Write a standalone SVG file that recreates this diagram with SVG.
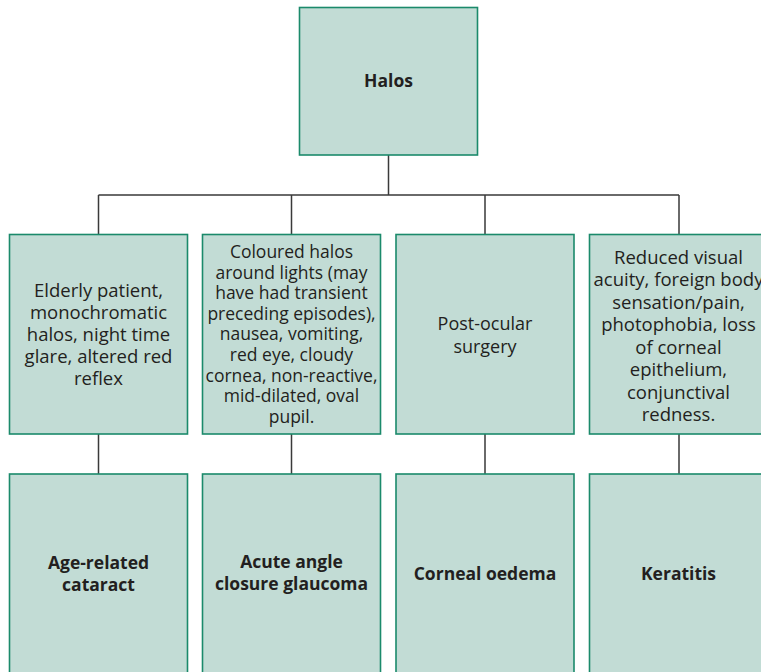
<svg xmlns="http://www.w3.org/2000/svg" width="761" height="672" viewBox="0 0 761 672">
<style>
.box{fill:#c2dcd5;stroke:#1b8a6b;stroke-width:1.6}
.t{font-family:"Open Sans","Liberation Sans",sans-serif;font-size:17.5px;fill:#231f20;text-anchor:middle}
.l{font-size:18.5px}
.b{font-family:"Open Sans","Liberation Sans",sans-serif;font-size:17.5px;font-weight:bold;fill:#231f20;text-anchor:middle}
.c{stroke:#3a3a3a;stroke-width:1.5;fill:none}
</style>
<rect width="761" height="672" fill="#ffffff"/>
<g id="connectors">
<path class="c" d="M388.5 155V195M98.5 195H679M98.5 195V234M291.5 195V234M485 195V234M679 195V234"/>
<path class="c" d="M98.5 434V474M291.5 434V474M485 434V474M679 434V474"/>
</g>
<g id="halos">
<rect class="box" x="299.5" y="7.5" width="178" height="147.5"/>
<text class="b" x="388.5" y="87">Halos</text>
</g>
<g id="sym1">
<rect class="box" x="9.5" y="234.5" width="178" height="199.5"/>
<text class="t l" x="98.5" y="296.5">Elderly patient,</text>
<text class="t l" x="98.5" y="318.5">monochromatic</text>
<text class="t l" x="98.5" y="340.5">halos, night time</text>
<text class="t l" x="98.5" y="362.5">glare, altered red</text>
<text class="t l" x="98.5" y="384.5">reflex</text>
</g>
<g id="sym2">
<rect class="box" x="202.5" y="234.5" width="178" height="199.5"/>
<text class="t" x="291.5" y="258">Coloured halos</text>
<text class="t" x="291.5" y="278.6">around lights (may</text>
<text class="t" x="291.5" y="299.2">have had transient</text>
<text class="t" x="291.5" y="319.8">preceding episodes),</text>
<text class="t" x="291.5" y="340.4">nausea, vomiting,</text>
<text class="t" x="291.5" y="361">red eye, cloudy</text>
<text class="t" x="291.5" y="381.6">cornea, non-reactive,</text>
<text class="t" x="291.5" y="402.2">mid-dilated, oval</text>
<text class="t" x="291.5" y="422.8">pupil.</text>
</g>
<g id="sym3">
<rect class="box" x="396" y="234.5" width="178" height="199.5"/>
<text class="t" x="485" y="329.5" style="font-size:18px">Post-ocular</text>
<text class="t" x="485" y="352.5" style="font-size:18px">surgery</text>
</g>
<g id="sym4">
<rect class="box" x="589.5" y="234.5" width="178" height="199.5"/>
<text class="t l" x="678.5" y="263.5">Reduced visual</text>
<text class="t l" x="678.5" y="286">acuity, foreign body</text>
<text class="t l" x="678.5" y="308.5">sensation/pain,</text>
<text class="t l" x="678.5" y="331">photophobia, loss</text>
<text class="t l" x="678.5" y="353.5">of corneal</text>
<text class="t l" x="678.5" y="376">epithelium,</text>
<text class="t l" x="678.5" y="398.5">conjunctival</text>
<text class="t l" x="678.5" y="421">redness.</text>
</g>
<g id="dx1">
<rect class="box" x="9.5" y="474" width="178" height="210"/>
<text class="b" x="98.5" y="569">Age-related</text>
<text class="b" x="98.5" y="590.5">cataract</text>
</g>
<g id="dx2">
<rect class="box" x="202.5" y="474" width="178" height="210"/>
<text class="b" x="291.5" y="568">Acute angle</text>
<text class="b" x="291.5" y="590">closure glaucoma</text>
</g>
<g id="dx3">
<rect class="box" x="396" y="474" width="178" height="210"/>
<text class="b" x="485" y="580">Corneal oedema</text>
</g>
<g id="dx4">
<rect class="box" x="589.5" y="474" width="178" height="210"/>
<text class="b" x="678.5" y="580">Keratitis</text>
</g>
</svg>
